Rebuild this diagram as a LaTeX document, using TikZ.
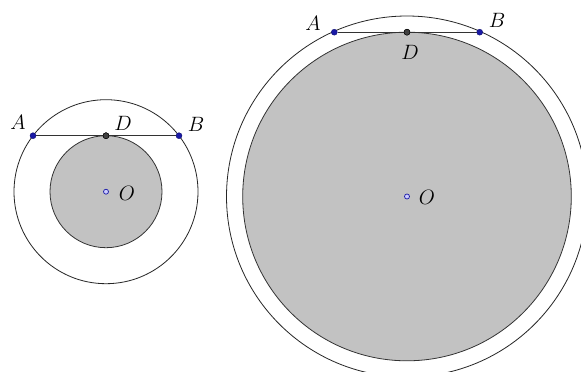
\documentclass[tikz,border=0pt]{standalone}
\usepackage{xcolor}
\usepackage{tikz}
\usetikzlibrary{positioning,calc}
\definecolor{disk}{HTML}{C2C2C2}
\definecolor{ptblue}{HTML}{1A1AA6}
\definecolor{ptgray}{HTML}{404040}
\tikzset{
  ring/.style={draw=black!85, line width=0.8pt},
  diskfill/.style={draw=black!80, line width=0.8pt, fill=disk},
  chord/.style={draw=black!80, line width=1pt},
  ptdot/.style={circle, fill=ptblue, draw=ptblue!70!black, inner sep=0pt, minimum size=6pt},
  midpt/.style={circle, fill=ptgray, draw=black, inner sep=0pt, minimum size=6pt},
  ctr/.style={circle, fill=white!80!blue, draw=ptblue, line width=0.7pt, inner sep=0pt, minimum size=5pt},
  lbl/.style={font=\fontsize{22}{24}\selectfont, inner sep=1pt}
}
\begin{document}
\begin{tikzpicture}[x=1pt,y=-1pt]
  \clip (0,0) rectangle (581,372);
  \fill[white] (0,0) rectangle (581,372);
  % small figure
  \draw[ring] (106,191.7) circle (92);
  \draw[diskfill] (106,191.7) circle (56);
  \node[ptdot] (A1) at (33,135.7) {};
  \node[ptdot] (B1) at (179,135.7) {};
  \node[midpt] (D1) at (106,135.7) {};
  \node[ctr] (O1) at (106,191.7) {};
  \draw[chord] (A1) -- (B1);
  \node[midpt] at (D1) {};
  \node[lbl] (lA1) at (18,122) {$A$};
  \node[lbl] (lD1) at (123,123) {$D$};
  \node[lbl] (lB1) at (196,124) {$B$};
  \node[lbl] (lO1) at (127,193) {$O$};
  % large figure
  \draw[ring] (407,196.5) circle (180.5);
  \draw[diskfill] (407,196.5) circle (164.3);
  \node[ptdot] (A2) at (334.3,32.2) {};
  \node[ptdot] (B2) at (479.7,32.2) {};
  \node[midpt] (D2) at (407,32.2) {};
  \node[ctr] (O2) at (407,196.5) {};
  \draw[chord] (A2) -- (B2);
  \node[midpt] at (D2) {};
  \node[lbl] (lA2) at (313,23) {$A$};
  \node[lbl] (lB2) at (497,20) {$B$};
  \node[lbl] (lD2) at (410,52) {$D$};
  \node[lbl] (lO2) at (427,197) {$O$};
\end{tikzpicture}
\end{document}
